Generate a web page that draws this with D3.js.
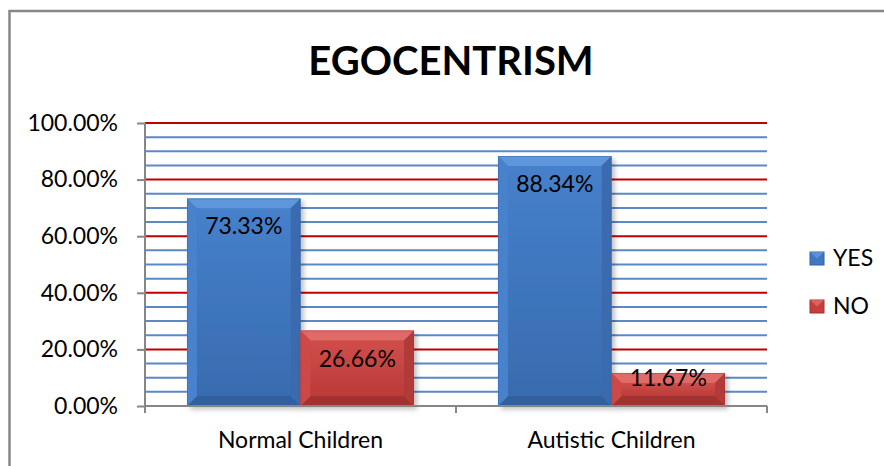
<!DOCTYPE html>
<html>
<head>
<meta charset="utf-8">
<script src="https://cdn.jsdelivr.net/npm/d3@7"></script>
<style>
  body { margin: 0; background: #fff; }
  svg { font-family: Lato, 'Open Sans', sans-serif; }
</style>
</head>
<body>
<div id="chart"></div>
<script>
var categories = ['Normal Children', 'Autistic Children'];
var seriesNames = ['YES', 'NO'];
var yesValues = [73.33, 88.34];
var noValues = [26.66, 11.67];
var yTicks = [0, 20, 40, 60, 80, 100];

var w = 884, h = 466;

var svg = d3.select('#chart').append('svg')
    .attr('width', w)
    .attr('height', h);

// bar colours: face, top bevel, bottom bevel, left, right
var palette = {
  YES: {face: '#4079c2', top: '#5f97dc', bottom: '#32609f', left: '#4882cc', right: '#3a6bae', grad: ['#4680cb', '#386cb0']},
  NO:  {face: '#c5403d', top: '#e06a67', bottom: '#a03331', left: '#cd4a47', right: '#b03a37', grad: ['#cf4d4a', '#bc3b38']}
};

var defs = svg.append('defs');
seriesNames.forEach(function(s){
  var g = defs.append('linearGradient').attr('id', 'grad' + s)
      .attr('x1', 0).attr('y1', 0).attr('x2', 0).attr('y2', 1);
  g.append('stop').attr('offset', '0%').attr('stop-color', palette[s].grad[0]);
  g.append('stop').attr('offset', '100%').attr('stop-color', palette[s].grad[1]);
});
var f = defs.append('filter').attr('id', 'shadow')
    .attr('x', '-10%').attr('y', '-10%').attr('width', '130%').attr('height', '130%');
f.append('feDropShadow').attr('dx', 3).attr('dy', 3).attr('stdDeviation', 2.5)
    .attr('flood-color', '#000').attr('flood-opacity', 0.25);

// chart border (left and top only visible)
svg.append('path')
    .attr('d', 'M9.5,480 V11 H900')
    .style('fill', 'none')
    .style('stroke', '#878787')
    .style('stroke-width', 2.5);

// title
svg.append('text')
    .attr('x', 451)
    .attr('y', 75)
    .attr('text-anchor', 'middle')
    .style('font-size', '40px')
    .style('font-weight', 'bold')
    .text('EGOCENTRISM');

//Scales
var x = d3.scaleBand()
    .domain(categories)
    .range([145, 767])
    .paddingInner(0.27)
    .paddingOuter(0.135);

var xs = d3.scaleBand()
    .domain(seriesNames)
    .range([0, x.bandwidth()]);

var y = d3.scaleLinear()
    .domain([0, 100])
    .range([406, 123]);

// gridlines: minor blue every 4%, major red every 20%
var grid = svg.append('g').attr('class', 'grid');
grid.selectAll('.minor')
    .data(y.ticks(25).filter(function(d){ return d % 20 !== 0; }))
    .enter()
    .append('line')
    .attr('class', 'minor')
    .attr('x1', 145).attr('x2', 767)
    .attr('y1', function(d){ return y(d); })
    .attr('y2', function(d){ return y(d); })
    .style('stroke', '#5a89c5')
    .style('stroke-width', 2);

grid.selectAll('.major')
    .data(yTicks.filter(function(d){ return d > 0; }))
    .enter()
    .append('line')
    .attr('class', 'major')
    .attr('x1', 145).attr('x2', 767)
    .attr('y1', function(d){ return y(d); })
    .attr('y2', function(d){ return y(d); })
    .style('stroke', '#c00000')
    .style('stroke-width', 2);

// bars
var rows = [];
categories.forEach(function(c, i){
  rows.push({cat: c, series: 'YES', value: yesValues[i]});
  rows.push({cat: c, series: 'NO', value: noValues[i]});
});

var bars = svg.append('g').attr('class', 'bars')
    .selectAll('.bar')
    .data(rows)
    .enter()
    .append('g')
    .attr('class', 'bar')
    .style('filter', 'url(#shadow)');

bars.each(function(d){
  var g = d3.select(this);
  var x0 = x(d.cat) + xs(d.series),
      x1 = x0 + xs.bandwidth(),
      y0 = y(d.value),
      y1 = y(0);
  var b = Math.min(10, (y1 - y0) / 2.5);
  var p = palette[d.series];
  g.append('rect')
      .attr('x', x0).attr('y', y0)
      .attr('width', x1 - x0).attr('height', y1 - y0)
      .style('fill', 'url(#grad' + d.series + ')');
  var poly = function(pts, col){
    g.append('polygon')
        .attr('points', pts.map(function(q){ return q.join(','); }).join(' '))
        .style('fill', col);
  };
  poly([[x0, y0], [x1, y0], [x1 - b, y0 + b], [x0 + b, y0 + b]], p.top);
  poly([[x0, y1], [x1, y1], [x1 - b, y1 - b], [x0 + b, y1 - b]], p.bottom);
  poly([[x0, y0], [x0 + b, y0 + b], [x0 + b, y1 - b], [x0, y1]], p.left);
  poly([[x1, y0], [x1 - b, y0 + b], [x1 - b, y1 - b], [x1, y1]], p.right);
  g.append('rect')
      .attr('x', x0 + b).attr('y', y0 + b)
      .attr('width', x1 - x0 - 2 * b).attr('height', y1 - y0 - 2 * b)
      .style('fill', 'url(#grad' + d.series + ')');
  g.append('rect')
      .attr('x', x0 + 0.5).attr('y', y0 + 0.5)
      .attr('width', x1 - x0 - 1).attr('height', y1 - y0 - 0.5)
      .style('fill', 'none')
      .style('stroke', d3.color(p.face).darker(0.6))
      .style('stroke-opacity', 0.4)
      .style('stroke-width', 1);
});

// data labels
svg.append('g').attr('class', 'labels')
    .selectAll('text')
    .data(rows)
    .enter()
    .append('text')
    .attr('x', function(d){ return x(d.cat) + xs(d.series) + xs.bandwidth() / 2; })
    .attr('y', function(d){ return Math.min(y(d.value) + 36, y(0) - 20); })
    .attr('text-anchor', 'middle')
    .style('font-size', '23px')
    .style('fill', '#000')
    .text(function(d){ return d.value.toFixed(2) + '%'; });

// y axis
var yAxis = svg.append('g')
    .attr('transform', 'translate(145,0)')
    .call(d3.axisLeft(y)
        .tickValues(yTicks)
        .tickSize(8)
        .tickPadding(19)
        .tickFormat(function(d){ return d.toFixed(2) + '%'; }));
yAxis.selectAll('path, line').style('stroke', '#868686').style('stroke-width', 2);
yAxis.select('.domain').attr('d', 'M0,' + (y(0) + 7) + 'V' + y(100));
yAxis.selectAll('text')
    .style('font-size', '23px')
    .style('font-family', "Lato, 'Open Sans', sans-serif")
    .style('fill', '#000');

// x axis
var xAxis = svg.append('g').attr('class', 'xaxis');
xAxis.append('line')
    .attr('x1', 145).attr('x2', 767)
    .attr('y1', y(0)).attr('y2', y(0))
    .style('stroke', '#868686')
    .style('stroke-width', 2);
xAxis.selectAll('.tick')
    .data([145].concat(categories.map(function(c){ return x(c) + x.bandwidth() + x.step() * x.paddingInner() / 2; })))
    .enter()
    .append('line')
    .attr('class', 'tick')
    .attr('x1', function(d){ return Math.min(d, 767); })
    .attr('x2', function(d){ return Math.min(d, 767); })
    .attr('y1', y(0)).attr('y2', y(0) + 7)
    .style('stroke', '#868686')
    .style('stroke-width', 2);
xAxis.selectAll('text')
    .data(categories)
    .enter()
    .append('text')
    .attr('x', function(d){ return x(d) + x.bandwidth() / 2; })
    .attr('y', 448)
    .attr('text-anchor', 'middle')
    .style('font-size', '23px')
    .text(function(d){ return d; });

// legend
var legend = svg.append('g').attr('class', 'legend')
    .selectAll('g')
    .data(seriesNames)
    .enter()
    .append('g')
    .attr('transform', function(d, i){ return 'translate(810,' + (252 + i * 48) + ')'; });
legend.append('rect')
    .attr('width', 14).attr('height', 13)
    .style('fill', function(d){ return palette[d].face; })
    .style('stroke', function(d){ return palette[d].bottom; })
    .style('stroke-width', 1);
legend.append('polygon')
    .attr('points', '0,0 14,0 7,6.5')
    .style('fill', function(d){ return palette[d].top; })
    .style('opacity', 0.8);
legend.append('text')
    .attr('x', 23)
    .attr('y', 14)
    .style('font-size', '23px')
    .text(function(d){ return d; });
</script>
</body>
</html>
